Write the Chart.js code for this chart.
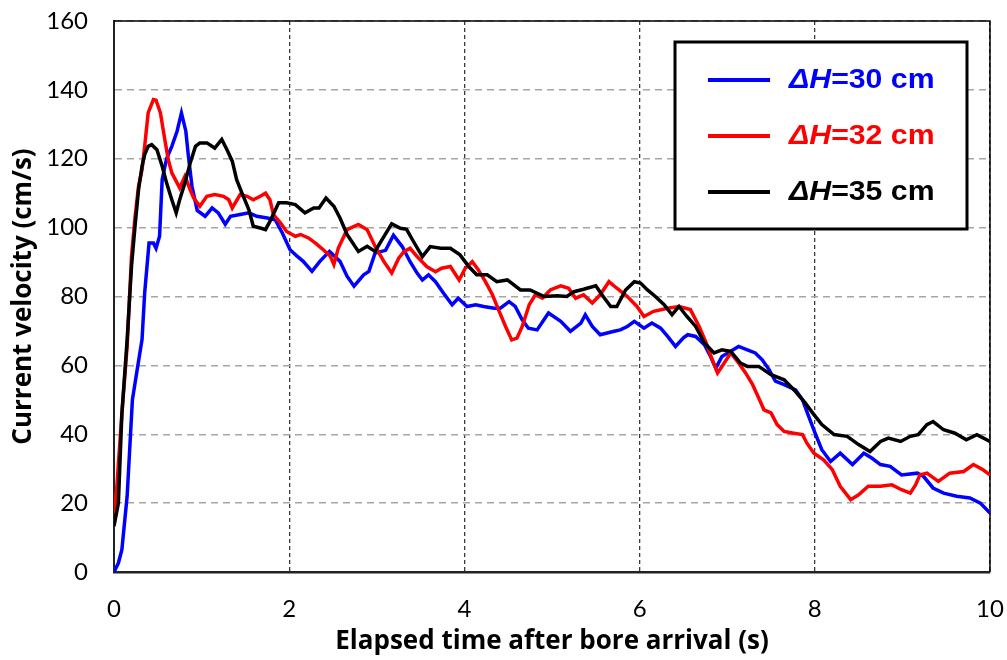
<!DOCTYPE html>
<html>
<head>
  <meta charset="UTF-8">
  <title>Current velocity after bore arrival</title>
  <script src="https://cdn.jsdelivr.net/npm/chart.js@4.4.1/dist/chart.umd.min.js"></script>
  <style>
    body { margin: 0; background: #fff; }
  </style>
</head>
<body>
  <canvas id="velocity-chart" width="1007" height="660"></canvas>

  <script>
    // [time (s), velocity (cm/s)]
    const dh30 = [[0,0],[0.05,2.6],[0.09,6.5],[0.15,22],[0.21,50],[0.26,58],[0.32,67.5],[0.35,81],[0.40,95.5],[0.45,95.5],[0.48,94],[0.52,97.5],[0.55,114],[0.60,120],[0.66,123.6],[0.72,128],[0.77,133.3],[0.82,128],[0.85,120.6],[0.89,112],[0.95,105],[1.04,103.3],[1.12,105.7],[1.19,104.3],[1.27,101],[1.33,103.3],[1.44,103.8],[1.54,104.3],[1.63,103.3],[1.75,102.8],[1.84,102.3],[1.92,98.5],[2.01,93.6],[2.09,91.7],[2.16,90.2],[2.26,87.3],[2.35,90.2],[2.46,93.1],[2.58,90.2],[2.66,85.9],[2.74,83],[2.85,86.3],[2.91,87.3],[2.98,92.6],[3.10,93.4],[3.19,97.8],[3.29,94.5],[3.38,90.1],[3.46,86.8],[3.52,84.8],[3.59,86.3],[3.67,84.3],[3.76,81],[3.86,77.6],[3.93,79.5],[4.03,77.1],[4.13,77.6],[4.22,77.1],[4.34,76.6],[4.41,76.6],[4.51,78.5],[4.58,77.1],[4.66,73.2],[4.73,70.8],[4.83,70.3],[4.96,75.2],[5.10,72.8],[5.21,69.9],[5.33,72.3],[5.38,74.7],[5.46,71.3],[5.55,68.9],[5.63,69.4],[5.71,69.9],[5.78,70.3],[5.86,71.3],[5.94,72.8],[6.05,70.8],[6.14,72.3],[6.24,70.8],[6.32,68.4],[6.41,65.5],[6.50,68],[6.55,68.9],[6.64,68.4],[6.74,66],[6.81,62.6],[6.87,59.2],[6.94,62.6],[7.04,64.1],[7.13,65.5],[7.23,64.5],[7.32,63.6],[7.40,61.6],[7.48,58.7],[7.55,55.4],[7.65,54.4],[7.78,52.9],[7.86,50],[7.93,45.2],[8.01,39.9],[8.08,35.5],[8.18,32.1],[8.29,34.5],[8.43,31.2],[8.56,34.5],[8.65,33.1],[8.75,31.2],[8.86,30.7],[8.99,28.2],[9.17,28.7],[9.24,27.8],[9.35,24.4],[9.47,22.9],[9.62,22],[9.77,21.5],[9.89,20],[10,17.1]];

    const dh32 = [[0,17],[0.03,24],[0.09,46],[0.15,65.5],[0.20,91.7],[0.24,103],[0.28,112],[0.32,116.8],[0.35,123.6],[0.39,133.3],[0.45,137.2],[0.48,137],[0.53,133.3],[0.58,125.6],[0.62,119.7],[0.66,115.9],[0.72,113],[0.75,111.5],[0.81,114.9],[0.87,111],[0.91,108.6],[0.98,106.2],[1.06,109.1],[1.15,109.6],[1.25,109.1],[1.31,108.1],[1.35,105.7],[1.44,109.6],[1.52,109.1],[1.59,108.1],[1.67,109.1],[1.73,110],[1.78,108.1],[1.82,103.8],[1.90,101.4],[1.97,98.9],[2.07,97.5],[2.13,98],[2.22,97],[2.30,95.5],[2.37,94],[2.47,91.7],[2.51,89.3],[2.56,94],[2.66,99.4],[2.79,100.9],[2.89,99.4],[2.98,94.6],[3.08,90.2],[3.17,86.8],[3.25,91.1],[3.31,93],[3.38,94],[3.46,91.6],[3.57,88.7],[3.67,87.2],[3.74,88.2],[3.84,88.7],[3.94,84.8],[4.01,88.2],[4.09,90.1],[4.16,87.7],[4.24,84.3],[4.32,80.5],[4.39,76.1],[4.47,71.3],[4.54,67.4],[4.60,67.9],[4.66,71.3],[4.74,77.6],[4.81,80.5],[4.89,79.5],[4.98,81.9],[5.10,83.1],[5.19,82.4],[5.27,79.5],[5.36,80.5],[5.46,78.1],[5.55,80.5],[5.65,84.3],[5.74,82.4],[5.86,80],[5.97,77.1],[6.05,74.2],[6.16,75.7],[6.32,76.6],[6.45,77.1],[6.58,76.2],[6.68,71.3],[6.76,66.5],[6.83,61.6],[6.89,57.8],[6.94,59.7],[7.04,63.6],[7.13,60.7],[7.21,57.8],[7.29,54.4],[7.36,50.5],[7.42,47.1],[7.50,46.2],[7.57,42.8],[7.65,40.8],[7.76,40.3],[7.86,39.9],[7.91,37.4],[7.99,34.5],[8.10,32.6],[8.20,29.7],[8.29,24.9],[8.41,21],[8.50,22.4],[8.61,24.9],[8.75,24.9],[8.88,25.3],[8.99,23.9],[9.09,22.9],[9.15,25.3],[9.20,28.2],[9.28,28.7],[9.41,26.3],[9.54,28.7],[9.70,29.2],[9.81,31.2],[9.92,29.7],[10,28.2]];

    const dh35 = [[0,13.3],[0.05,20],[0.09,46],[0.15,67.5],[0.20,88.8],[0.24,100.4],[0.28,111],[0.32,117.8],[0.35,121.2],[0.39,123.6],[0.43,124.1],[0.49,122.6],[0.55,117.8],[0.60,113],[0.66,108.1],[0.71,104.3],[0.75,108.1],[0.81,113],[0.87,118.8],[0.93,123.6],[0.98,124.6],[1.06,124.6],[1.15,123.1],[1.23,125.6],[1.29,122.6],[1.35,119.3],[1.40,113.9],[1.46,110.1],[1.54,105.2],[1.59,100.4],[1.67,99.9],[1.73,99.4],[1.78,101.8],[1.88,107.2],[1.97,107.2],[2.07,106.7],[2.18,104.3],[2.28,105.7],[2.34,105.7],[2.42,108.6],[2.51,106.2],[2.58,102.8],[2.66,98],[2.79,93.1],[2.89,94.6],[2.98,93.1],[3.06,96.5],[3.17,101.1],[3.27,99.8],[3.34,99.5],[3.42,95.9],[3.52,91.6],[3.61,94.5],[3.73,94],[3.84,94],[3.95,92.1],[4.05,88.7],[4.14,86.3],[4.26,86.3],[4.37,84.3],[4.49,84.8],[4.64,81.9],[4.75,81.9],[4.91,80],[5.06,80.2],[5.17,80],[5.25,81.4],[5.36,82.1],[5.50,83.1],[5.57,80.5],[5.67,77.1],[5.74,77.1],[5.84,81.9],[5.94,84.3],[6.01,83.9],[6.09,81.9],[6.18,80],[6.28,77.6],[6.37,74.7],[6.45,77.1],[6.54,74.2],[6.64,71.3],[6.74,66.5],[6.85,63.6],[6.94,64.5],[7.04,64.1],[7.15,60.7],[7.23,59.7],[7.36,59.7],[7.50,57.3],[7.65,55.8],[7.78,52.4],[7.89,49.1],[7.99,45.7],[8.08,42.8],[8.22,39.9],[8.37,39.4],[8.50,37],[8.63,35],[8.75,37.9],[8.84,38.9],[8.98,37.9],[9.09,39.4],[9.18,39.9],[9.28,42.8],[9.35,43.7],[9.47,41.3],[9.60,40.3],[9.73,38.4],[9.85,39.9],[10,37.9]];

    const seriesLabels = ["ΔH=30 cm", "ΔH=32 cm", "ΔH=35 cm"];
    const seriesColors = ["#0000ff", "#ff0000", "#000000"];
    const seriesData = [dh30, dh32, dh35];

    const xRange = [0, 10];
    const yRange = [0, 160];

    // top and right edges of the plot frame
    const frame = {
      id: "frame",
      beforeDatasetsDraw(chart) {
        const { ctx, chartArea: a } = chart;
        ctx.save();
        ctx.strokeStyle = "#000";
        ctx.lineWidth = 1.5;
        ctx.beginPath();
        ctx.moveTo(a.left, a.top);
        ctx.lineTo(a.right, a.top);
        ctx.lineTo(a.right, a.bottom);
        ctx.stroke();
        ctx.restore();
      }
    };

    // boxed legend, "ΔH" in italics
    const boxLegend = {
      id: "boxLegend",
      afterDraw(chart) {
        const ctx = chart.ctx;
        const box = { x: 675, y: 42, w: 292, h: 187 };
        ctx.save();
        ctx.fillStyle = "#fff";
        ctx.fillRect(box.x, box.y, box.w, box.h);
        ctx.strokeStyle = "#000";
        ctx.lineWidth = 3;
        ctx.strokeRect(box.x, box.y, box.w, box.h);

        chart.data.datasets.forEach((ds, i) => {
          const y = 80 + i * 56;
          ctx.strokeStyle = ds.borderColor;
          ctx.lineWidth = 4;
          ctx.beginPath();
          ctx.moveTo(708, y);
          ctx.lineTo(770, y);
          ctx.stroke();

          const parts = ds.label.split("=");
          ctx.fillStyle = ds.borderColor;
          ctx.textBaseline = "middle";
          ctx.save();
          ctx.translate(789, y + 1);
          ctx.scale(1.12, 1);
          ctx.font = "italic bold 27px 'Liberation Sans'";
          ctx.fillText(parts[0], 0, 0);
          const w = ctx.measureText(parts[0]).width;
          ctx.font = "bold 27px 'Liberation Sans'";
          ctx.fillText("=" + parts[1], w, 0);
          ctx.restore();
        });
        ctx.restore();
      }
    };

    const ctx = document.getElementById("velocity-chart").getContext("2d");

    new Chart(ctx, {
      type: "line",
      data: {
        datasets: seriesData.map((pts, i) => ({
          label: seriesLabels[i],
          data: pts.map(p => ({ x: p[0], y: p[1] })),
          borderColor: seriesColors[i],
          borderWidth: 3.5,
          pointRadius: 0,
          tension: 0,
          order: 3 - i
        }))
      },
      options: {
        responsive: false,
        animation: false,
        devicePixelRatio: 1,
        layout: { padding: { top: 21, right: 17, left: 0, bottom: 0 } },
        plugins: {
          legend: { display: false },
          tooltip: { enabled: false }
        },
        scales: {
          x: {
            type: "linear",
            min: xRange[0],
            max: xRange[1],
            afterFit(scale) { scale.height = 88; },
            ticks: {
              stepSize: 2,
              color: "#000",
              padding: 0,
              font: { family: "Lato", size: 24 }
            },
            grid: {
              color: "#3a3a3a",
              lineWidth: 1.3,
              drawTicks: true,
              tickLength: 23,
              tickColor: "rgba(0,0,0,0)"
            },
            border: { display: true, color: "#222", width: 2.5, dash: [4, 3] },
            title: {
              display: true,
              text: "Elapsed time after bore arrival (s)",
              color: "#000",
              font: { family: "Open Sans", size: 26, weight: "bold" },
              padding: { top: 0, bottom: 3 }
            }
          },
          y: {
            min: yRange[0],
            max: yRange[1],
            afterFit(scale) { scale.width = 114; },
            ticks: {
              stepSize: 20,
              color: "#000",
              padding: 0,
              font: { family: "Lato", size: 24 }
            },
            grid: {
              color: "#a6a6a6",
              lineWidth: 1.5,
              drawTicks: true,
              tickLength: 26,
              tickColor: "rgba(0,0,0,0)"
            },
            border: { display: true, color: "#222", width: 2, dash: [7, 5] },
            title: {
              display: true,
              text: "Current velocity (cm/s)",
              color: "#000",
              font: { family: "Open Sans", size: 26, weight: "bold" },
              padding: { top: 8, bottom: 0 }
            }
          }
        }
      },
      plugins: [frame, boxLegend]
    });
  </script>
</body>
</html>
